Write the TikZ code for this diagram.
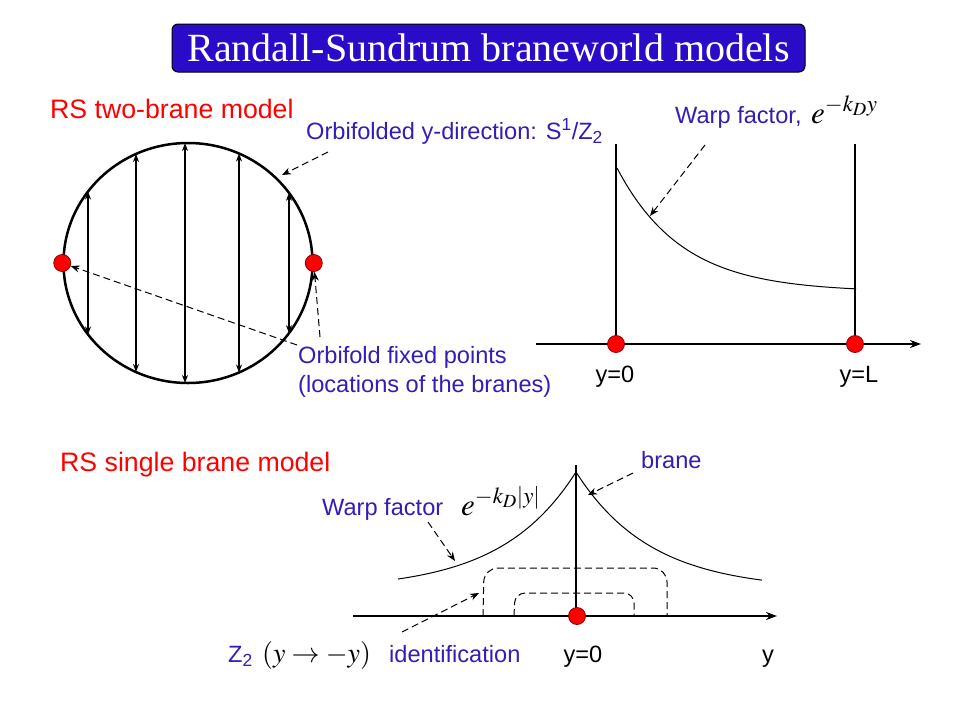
\documentclass[tikz,border=0pt]{standalone}
\usepackage{mathptmx}
\usepackage{fontspec}
\setmainfont{Liberation Sans}
\newfontfamily\titlefont{Liberation Serif}
\usetikzlibrary{arrows.meta,shapes.geometric}
\definecolor{txtblue}{RGB}{51,30,180}
\definecolor{titleblue}{RGB}{42,12,200}
\begin{document}
\begin{tikzpicture}[x=1pt,y=-1pt,
  lbl/.style={inner sep=0pt, anchor=base west, text=txtblue, font=\fontsize{23.6}{28}\selectfont},
  redlbl/.style={inner sep=0pt, anchor=base west, text=red, font=\fontsize{26.7}{31}\selectfont},
  blk/.style={inner sep=0pt, anchor=base, text=black, font=\fontsize{23.6}{28}\selectfont},
  mth/.style={inner sep=0pt, anchor=base west, font=\fontsize{31}{37}\selectfont},
  dot/.style={circle, fill=red, draw=red!55!black, line width=0.8pt, minimum size=17pt, inner sep=0pt},
  ptr/.style={dash pattern=on 7pt off 4pt, line width=1pt, -{Stealth[length=9pt,width=7pt]}},
  dsh/.style={dash pattern=on 7pt off 4pt, line width=1pt},
  twoway/.style={line width=1.3pt, {Stealth[length=8pt,width=6pt]}-{Stealth[length=8pt,width=6pt]}},
  axis/.style={line width=2pt, -{Stealth[length=11pt,width=8pt]}},
  brn/.style={line width=2pt},
  curve/.style={line width=1pt}
]
\useasboundingbox (0,0) rectangle (960,720);
\fill[white] (0,0) rectangle (960,720);

% title
\node[draw=black, line width=1pt, fill=titleblue, rounded corners=6pt, minimum width=633pt, minimum height=48pt, inner sep=0pt, text=white, font=\titlefont\fontsize{40}{44}\selectfont] (title) at (488.5,48) {Randall-Sundrum braneworld models};

% ---------- RS two-brane model ----------
\node[redlbl] (twolbl) at (50,118) {RS two-brane model};
\node[lbl] (orblbl) at (306,139) {Orbifolded y-direction: S\textsuperscript{1}/Z\textsubscript{2}};
\node[lbl] (fixlbl1) at (298,363) {Orbifold fixed points};
\node[lbl] (fixlbl2) at (298,392) {(locations of the branes)};

\node[ellipse, draw, line width=2.5pt, minimum width=249pt, minimum height=240pt, inner sep=0pt] (orb) at (188,263) {};
\foreach \xx in {88,136,185,239,289} {
  \draw[twoway] (\xx,{263-120*sqrt(1-((\xx-188)/124.5)^2)}) -- (\xx,{263+120*sqrt(1-((\xx-188)/124.5)^2)});
}
\node[dot] (dl) at (orb.west) {};
\node[dot] (dr) at (orb.east) {};

\coordinate (p1s) at (328,152);
\coordinate (p1e) at (282,175);
\draw[ptr] (p1s) -- (p1e);
\coordinate (p2s) at (297,345);
\draw[ptr] (p2s) -- (dl);
\coordinate (p3s) at (320,337);
\draw[ptr] (p3s) -- (dr);

% ---------- right panel ----------
\coordinate (ax0) at (536,344);
\coordinate (ax1) at (921,344);
\draw[axis] (ax0) -- (ax1);
\coordinate (t0) at (616,144);
\coordinate (tL) at (855,144);
\draw[brn] (t0) -- (616,344);
\draw[brn] (tL) -- (855,344);
\draw[curve] plot[domain=0:239, samples=80] ({617+\x},{292-124*exp(-\x/65)});
\node[dot] (b0) at (616,344) {};
\node[dot] (bL) at (855,344) {};
\node[lbl] (warp1) at (675,123) {Warp factor,};
\node[mth] (exp1) at (811,123) {$e^{-k_D y}$};
\coordinate (p4s) at (705,145);
\coordinate (p4e) at (650,216);
\draw[ptr] (p4s) -- (p4e);
\node[blk] (y0a) at (615,382) {y=0};
\node[blk] (yLa) at (859,382) {y=L};

% ---------- RS single brane model ----------
\node[redlbl] (onelbl) at (60,471) {RS single brane model};
\coordinate (bx0) at (353,616);
\coordinate (bx1) at (777,616);
\draw[axis] (bx0) -- (bx1);
\draw[dsh, rounded corners=14pt] (483,616) -- (484,568) -- (667,568) -- (667,616);
\draw[dsh, rounded corners=10pt] (514,616) -- (515,593) -- (634,593) -- (634,616);
\coordinate (btop) at (576,465);
\draw[brn] (btop) -- (576,616);
\draw[curve] plot[domain=-178:0, samples=80] ({576+\x},{590-118*exp(\x/75)});
\draw[curve] plot[domain=0:186, samples=80] ({576+\x},{590-118*exp(-\x/75)});
\node[dot] (c0) at (577,616) {};

\node[lbl] (branelbl) at (641,468) {brane};
\node[lbl] (warp2) at (322,515) {Warp factor};
\node[mth] (exp2) at (461,515) {$e^{-k_D|y|}$};
\coordinate (p5s) at (428,522);
\coordinate (p5e) at (455,561);
\draw[ptr] (p5s) -- (p5e);
\coordinate (p6s) at (633,473);
\coordinate (p6e) at (588,495);
\draw[ptr] (p6s) -- (p6e);
\coordinate (p7s) at (402,632);
\coordinate (p7e) at (479,593);
\draw[ptr] (p7s) -- (p7e);

\node[lbl] (z2) at (228,662) {Z\textsubscript{2}};
\node[mth, font=\fontsize{28}{34}\selectfont] (z2map) at (262,662) {$(y\rightarrow -y)$};
\node[lbl] (ident) at (389,662) {identification};
\node[blk] (y0b) at (583,662) {y=0};
\node[blk] (yb) at (768,662) {y};
\end{tikzpicture}
\end{document}
